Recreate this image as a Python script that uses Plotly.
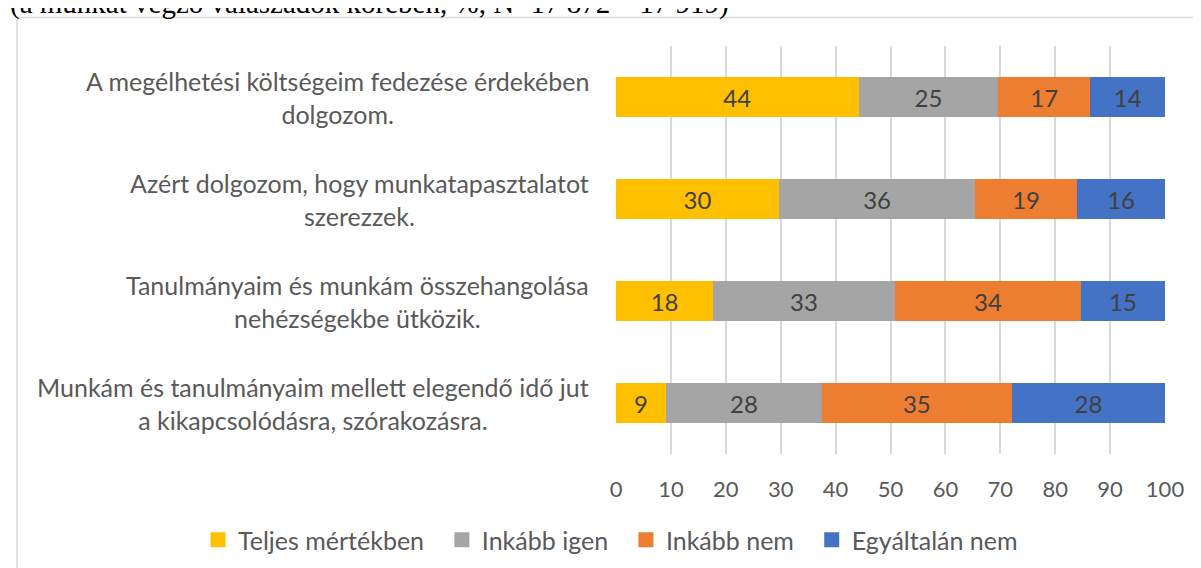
import plotly.graph_objects as go

categories = [
    "A megélhetési költségeim fedezése érdekében<br>dolgozom.",
    "Azért dolgozom, hogy munkatapasztalatot<br>szerezzek.",
    "Tanulmányaim és munkám összehangolása<br>nehézségekbe ütközik.",
    "Munkám és tanulmányaim mellett elegendő idő jut<br>a kikapcsolódásra, szórakozásra.",
]
series_names = ["Teljes mértékben", "Inkább igen", "Inkább nem", "Egyáltalán nem"]
teljes = [44.2, 29.7, 17.7, 9.1]
inkabb_igen = [25.4, 35.7, 33.1, 28.4]
inkabb_nem = [16.8, 18.6, 33.9, 34.6]
egyaltalan = [13.6, 16.0, 15.3, 27.9]
x_ticks = [0, 10, 20, 30, 40, 50, 60, 70, 80, 90, 100]
title_text = "(a munkát végző válaszadók körében, %, N=17 872 – 17 919)"

colors = ["#FFC000", "#A5A5A5", "#ED7D31", "#4472C4"]
FONT = "Lato"
W, H = 1201, 568
L, R, T, B = 608, 1157, 38, 446

fig = go.Figure()
ykeys = list(range(len(categories)))
for name, vals, col in zip(series_names, [teljes, inkabb_igen, inkabb_nem, egyaltalan], colors):
    fig.add_trace(go.Bar(
        y=ykeys, x=vals, name=name, orientation="h",
        marker=dict(color=col, line=dict(width=0)),
        text=[f"{v:.0f}" for v in vals], texttemplate="%{text}",
        textposition="inside", insidetextanchor="middle", textangle=0,
        constraintext="none",
        textfont=dict(family=FONT, size=24, color="#404040"),
        hoverinfo="skip", showlegend=False,
    ))
# legend entries (square swatches)
for name, col in zip(series_names, colors):
    fig.add_trace(go.Scatter(
        x=[None], y=[None], mode="markers", name=name + "\u00a0" * 2,
        marker=dict(symbol="square", size=15, color=col), hoverinfo="skip",
    ))

def px(xp):
    return (xp - L) / (R - L)

def py(yp):
    return 1 - (yp - T) / (B - T)

annotations = []
for i, c in enumerate(categories):
    annotations.append(dict(
        x=0, xref="paper", y=i, yref="y", text=c, showarrow=False,
        xanchor="right", yanchor="middle", align="center", xshift=-25,
        font=dict(family=FONT, size=25, color="#595959"),
    ))
annotations.append(dict(
    x=px(0), xref="paper", y=py(14), yref="paper", text=title_text,
    showarrow=False, xanchor="left", yanchor="bottom",
    font=dict(family="Liberation Serif", size=29, color="#000000"),
))

fig.update_layout(
    width=W, height=H,
    margin=dict(l=L, r=W - R, t=T, b=H - B, pad=0),
    barmode="stack", bargap=0.608,
    plot_bgcolor="white", paper_bgcolor="white",
    xaxis=dict(range=[0, 100], tickvals=x_ticks, showgrid=True, gridcolor="#D9D9D9",
               gridwidth=1.5, zeroline=False, showline=False, ticks="",
               tickfont=dict(family=FONT, size=22, color="#595959"),
               ticklabelstandoff=20, fixedrange=True),
    yaxis=dict(range=[len(categories) - 0.5, -0.5], showticklabels=False, showgrid=False,
               zeroline=False, showline=False, ticks=""),
    showlegend=True,
    legend=dict(orientation="h", xref="paper", x=px(190), xanchor="left",
                yref="paper", y=py(532), yanchor="middle",
                traceorder="normal", font=dict(family=FONT, size=25, color="#595959"),
                itemwidth=30, bgcolor="rgba(0,0,0,0)", borderwidth=0),
    annotations=annotations,
    shapes=[dict(type="rect", xref="paper", yref="paper",
                 x0=px(9), x1=px(1215), y0=py(590), y1=py(9.5),
                 line=dict(color="#D9D9D9", width=1.5), fillcolor="rgba(0,0,0,0)", layer="below")],
)

fig.write_html("out.html")
